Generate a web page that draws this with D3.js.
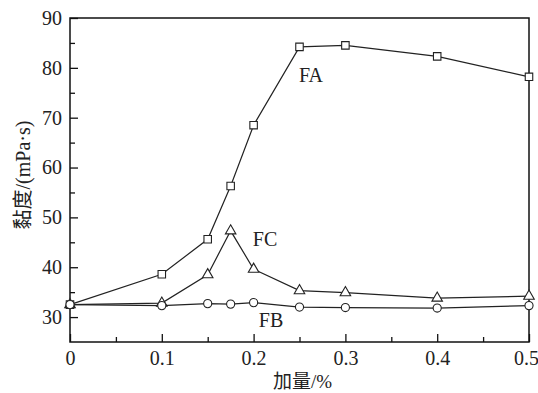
<!DOCTYPE html>
<head>
    <meta charset="utf-8">
    <script src="https://cdn.jsdelivr.net/npm/d3@7"></script>
    <style>
        body { margin: 0; background: #fff; }
        svg { display: block; }
        text { font-family: "Liberation Serif", "Times New Roman", serif; fill: #222; }
        .cjk { font-family: "Noto Sans CJK SC", sans-serif; }
    </style>
</head>
<body>
<script>
    // dosage (%)
    var dosage = [0, 0.1, 0.15, 0.175, 0.2, 0.25, 0.3, 0.4, 0.5];
    var faValues = [32.5, 38.6, 45.6, 56.3, 68.5, 84.2, 84.5, 82.3, 78.2];
    var fbValues = [32.5, 32.3, 32.7, 32.6, 32.9, 32.0, 31.9, 31.8, 32.3];
    var fcValues = [32.5, 32.8, 38.5, 47.3, 39.6, 35.3, 34.9, 33.8, 34.2];
    var xTicks = [0, 0.1, 0.2, 0.3, 0.4, 0.5];
    var yTicks = [30, 40, 50, 60, 70, 80, 90];

    var width = 538, height = 393;
    var margin = {left: 70, right: 9, top: 18, bottom: 51};

    var svg = d3.select("body").append("svg")
        .attr("width", width)
        .attr("height", height);

    var x = d3.scaleLinear().domain([0, 0.5]).range([margin.left, width - margin.right]);
    var y = d3.scaleLinear().domain([25, 90]).range([height - margin.bottom, margin.top]);

    // minor ticks
    var xAxisMinor = d3.axisBottom(x).tickValues(d3.range(0.05, 0.5, 0.1)).tickSize(-5).tickFormat("");
    var yAxisMinor = d3.axisLeft(y).tickValues(d3.range(35, 90, 10)).tickSize(-5).tickFormat("");
    svg.append("g").attr("transform", "translate(0," + y(25) + ")").call(xAxisMinor);
    svg.append("g").attr("transform", "translate(" + x(0) + ",0)").call(yAxisMinor);

    var xAxis = d3.axisBottom(x).tickValues(xTicks).tickSize(-8).tickPadding(9)
        .tickFormat(function (d) { return d === 0 ? "0" : d3.format(".1f")(d); });
    var yAxis = d3.axisLeft(y).tickValues(yTicks).tickSize(-8).tickPadding(8);

    var gx = svg.append("g").attr("transform", "translate(0," + y(25) + ")").call(xAxis);
    svg.append("g").attr("transform", "translate(" + x(0) + ",0)").call(yAxis);
    svg.selectAll(".tick text")
        .style("font-family", "'Liberation Serif', serif")
        .style("font-size", "20px").attr("fill", "#222");
    gx.selectAll(".tick text").filter(function (d) { return d === 0.5; }).attr("dx", -3);
    svg.selectAll(".domain").remove();
    svg.selectAll(".tick line").attr("stroke", "#111").attr("stroke-width", 1.3);

    // frame
    svg.append("rect")
        .attr("x", x(0)).attr("y", y(90))
        .attr("width", x(0.5) - x(0)).attr("height", y(25) - y(90))
        .attr("fill", "none").attr("stroke", "#111").attr("stroke-width", 1.5);

    var line = d3.line()
        .x(function (d) { return x(d[0]); })
        .y(function (d) { return y(d[1]); });

    function series(values, shape) {
        var pts = dosage.map(function (d, i) { return [d, values[i]]; });
        svg.append("path").datum(pts)
            .attr("d", line)
            .attr("fill", "none").attr("stroke", "#222").attr("stroke-width", 1.2);
        svg.append("g").selectAll("path").data(pts).enter().append("path")
            .attr("transform", function (d) { return "translate(" + x(d[0]) + "," + y(d[1]) + ")"; })
            .attr("d", d3.symbol().type(shape.type).size(shape.size))
            .attr("fill", "#fff").attr("stroke", "#222").attr("stroke-width", 1.1);
    }

    series(faValues, {type: d3.symbolSquare, size: 56});
    series(fcValues, {type: d3.symbolTriangle, size: 48});
    series(fbValues, {type: d3.symbolCircle, size: 52});

    // series labels
    svg.append("text").attr("x", 311).attr("y", 82).attr("text-anchor", "middle")
        .style("font-size", "20px").text("FA");
    svg.append("text").attr("x", 265).attr("y", 246).attr("text-anchor", "middle")
        .style("font-size", "20px").text("FC");
    svg.append("text").attr("x", 271).attr("y", 327).attr("text-anchor", "middle")
        .style("font-size", "20px").text("FB");

    // axis titles
    var xt = svg.append("text")
        .attr("x", (x(0) + x(0.5)) / 2 + 3).attr("y", 388)
        .attr("text-anchor", "middle").style("font-size", "19px");
    xt.append("tspan").attr("class", "cjk").text("加量");
    xt.append("tspan").text("/%");

    var yt = svg.append("text")
        .attr("transform", "translate(30,175) rotate(-90)")
        .attr("text-anchor", "middle").style("font-size", "20px");
    yt.append("tspan").attr("class", "cjk").text("黏度");
    yt.append("tspan").text("/(mPa·s)");
</script>
</body>
